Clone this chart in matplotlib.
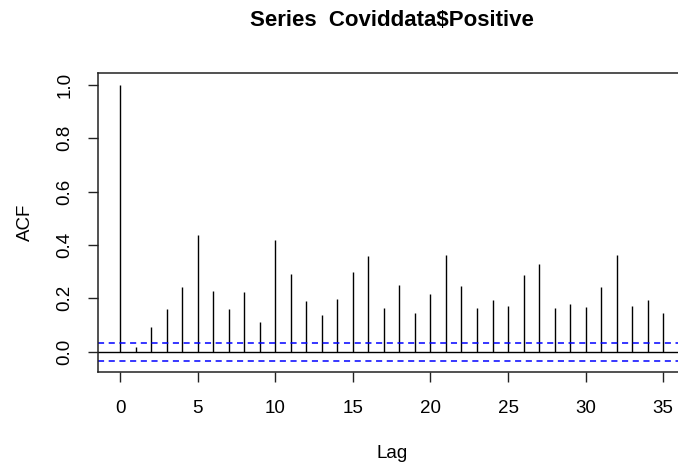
import matplotlib
matplotlib.use("Agg")
import matplotlib.pyplot as plt
import numpy as np

# ACF values, lags 0..35
lags = np.arange(0, 36)
acf_vals = [1.000, 0.016, 0.091, 0.160, 0.241, 0.438, 0.228, 0.160, 0.223, 0.110,
            0.420, 0.291, 0.191, 0.136, 0.196, 0.299, 0.357, 0.163, 0.250, 0.145,
            0.218, 0.362, 0.245, 0.163, 0.195, 0.172, 0.286, 0.327, 0.163, 0.177,
            0.168, 0.241, 0.362, 0.172, 0.195, 0.145]
conf_limit = 0.034

plt.rcParams["font.family"] = ["Liberation Sans", "DejaVu Sans"]

fig = plt.figure(figsize=(6.78, 4.66), dpi=100)
fig.patch.set_facecolor("white")
# axes box runs slightly past the right edge, like the cropped original
ax = fig.add_axes([0.145, 0.2011, 0.8653, 0.6416])

ax.vlines(lags, 0, acf_vals, color="black", linewidth=1.0)
ax.axhline(0, color="black", linewidth=1.0)
for lim in (conf_limit, -conf_limit):
    ax.axhline(lim, color="blue", linewidth=1.1, linestyle=(0, (4, 3)))

ax.set_xlim(-1.4, 36.4)
ax.set_ylim(-0.077, 1.043)

ax.set_xticks(np.arange(0, 36, 5))
ax.set_yticks(np.arange(0, 1.01, 0.2))
ax.set_yticklabels([f"{v:.1f}" for v in np.arange(0, 1.01, 0.2)],
                   rotation=90, va="center")
ax.tick_params(axis="both", direction="out", length=7, width=1.0,
               labelsize=13.5, color="#222222")
ax.tick_params(axis="x", pad=13)
ax.tick_params(axis="y", pad=11)

for sp in ax.spines.values():
    sp.set_linewidth(1.1)
    sp.set_color("#222222")

ax.set_xlabel("Lag", fontsize=13.5)
ax.set_ylabel("ACF", fontsize=13.5)
ax.xaxis.set_label_coords(0.5, -0.27)
ax.yaxis.set_label_coords(-0.125, 0.5)
ax.xaxis.label.set_va("center")
ax.yaxis.label.set_va("center")

fig.text(0.5777, 0.957, "Series  Coviddata\\$Positive", ha="center", va="center",
         fontsize=16, fontweight="bold")

plt.savefig("out.png", dpi=100)
plt.close()
